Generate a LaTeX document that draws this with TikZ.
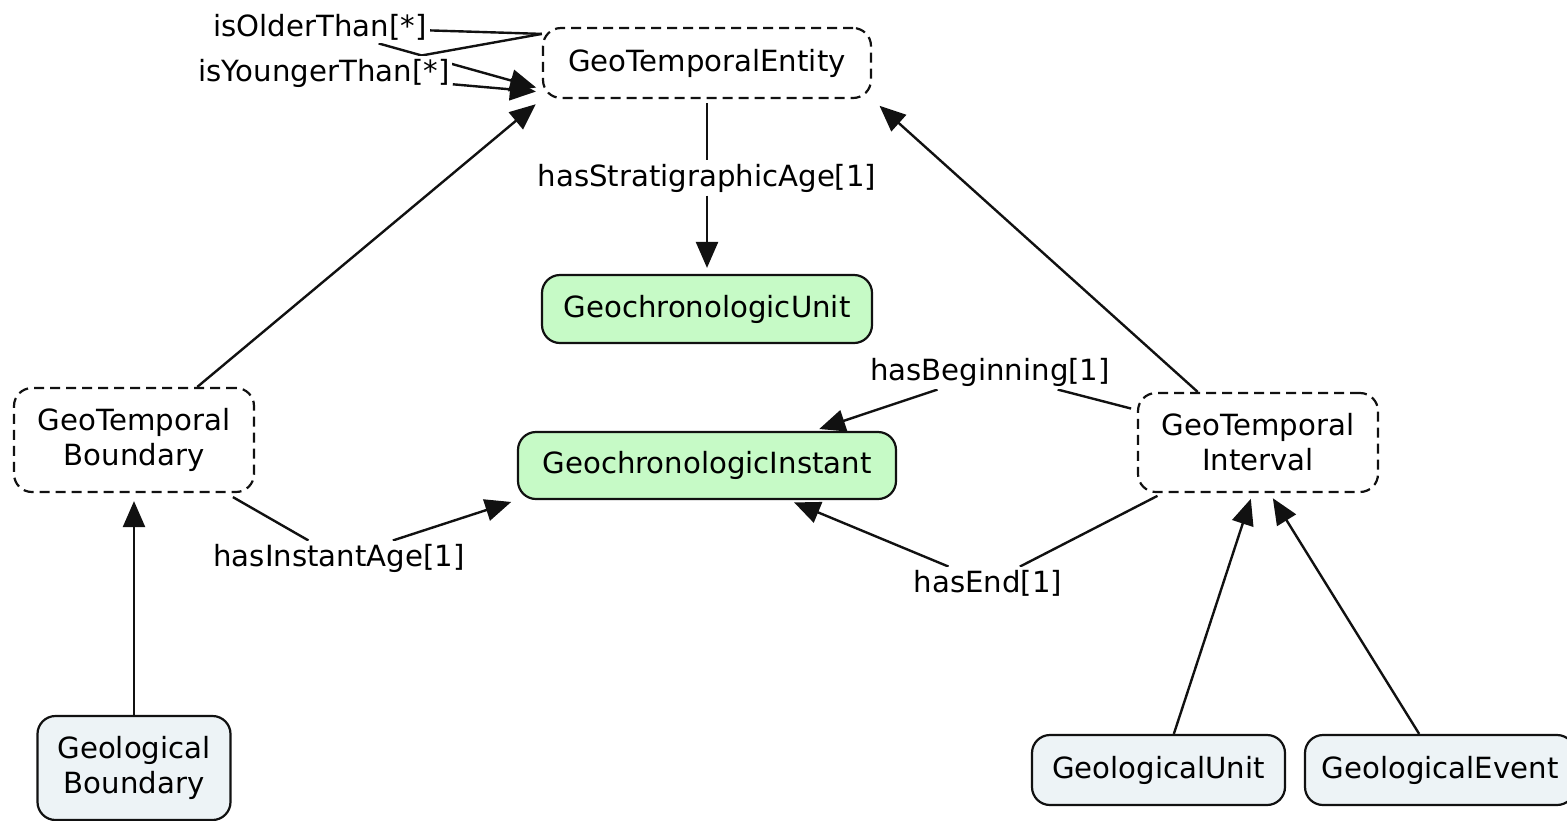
\documentclass[tikz,border=0pt]{standalone}
\usepackage{fontspec}
\setmainfont{DejaVu Sans}
\usetikzlibrary{arrows.meta, positioning, backgrounds}
\definecolor{linecol}{HTML}{111111}
\definecolor{chronofill}{HTML}{C6FAC6}
\definecolor{geofill}{HTML}{EDF3F6}

\begin{document}
\begin{tikzpicture}[x=0.5pt, y=-0.5pt, >={Triangle[length=13pt, width=11pt]}, every node/.style={font=\fontsize{14.6}{17.5}\selectfont}]
    \tikzstyle{abstract} = [rectangle, draw=linecol, dash pattern=on 5pt off 3pt, rounded corners=9pt, line width=1.1pt, align=center, inner sep=0pt]
    \tikzstyle{chrono} = [rectangle, draw=linecol, fill=chronofill, rounded corners=9pt, line width=1.1pt, align=center, inner sep=0pt]
    \tikzstyle{geo} = [chrono, fill=geofill]
    \tikzstyle{relation} = [fill=white, inner sep=1.5pt]
    \tikzstyle{link} = [draw=linecol, line width=1.2pt]

    \useasboundingbox (0,0) rectangle (1567,820);

    % concepts
    \node [abstract, minimum width=164pt, minimum height=35pt] (entity) at (707,63) {GeoTemporalEntity};
    \node [chrono, minimum width=165pt, minimum height=34pt] (unit) at (707,309) {GeochronologicUnit};
    \node [chrono, minimum width=189pt, minimum height=33.5pt] (instant) at (707,465.5) {GeochronologicInstant};
    \node [abstract, minimum width=120pt, minimum height=52pt] (gtb) at (134,440) {GeoTemporal\\Boundary};
    \node [abstract, minimum width=120pt, minimum height=49.5pt] (gti) at (1258,442.5) {GeoTemporal\\Interval};
    \node [geo, minimum width=96.5pt, minimum height=52pt] (gb) at (134,768) {Geological\\Boundary};
    \node [geo, minimum width=126.5pt, minimum height=35pt] (gu) at (1158.5,770) {GeologicalUnit};
    \node [geo, minimum width=135pt, minimum height=35pt] (ge) at (1440,770) {GeologicalEvent};

    % relations
    \node [relation] (older) at (320,27) {isOlderThan[*]};
    \node [relation] (younger) at (324,73) {isYoungerThan[*]};
    \node [relation] (strat) at (707,178) {hasStratigraphicAge[1]};
    \node [relation] (begin) at (990,372) {hasBeginning[1]};
    \node [relation] (age) at (339,558) {hasInstantAge[1]};
    \node [relation] (end) at (988,583) {hasEnd[1]};

    \begin{scope}[on background layer]
        \path [link] (entity.170) -- (older);
        \path [link, ->, shorten >=3pt] (older) -- (entity.189);
        \path [link] (entity.170) -- (younger);
        \path [link, ->, shorten >=3pt] (younger) -- (entity.190);
        \path [link, shorten <=2pt] (entity.south) -- (strat);
        \path [link, ->, shorten >=3pt] (strat) -- (unit.north);
        \path [link, ->, shorten >=4pt] (gtb.40) -- (entity.south west);
        \path [link, ->, shorten >=5pt] (gti.140) -- (entity.south east);
        \path [link, shorten <=4pt] (gtb.-30) -- (age);
        \path [link, ->, shorten >=3pt] (age) -- (instant.south west);
        \path [link, shorten <=3pt] (gti.165) -- (begin);
        \path [link, ->, shorten >=3pt] (begin) -- (instant.18);
        \path [link, shorten <=3pt] (gti.208) -- (end);
        \path [link, ->, shorten >=3pt] (end) -- (instant.337);
        \path [link, ->, shorten >=4pt] (gb) -- (gtb);
        \path [link, ->, shorten >=3pt] (gu.67) -- (gti.264);
        \path [link, ->, shorten >=3pt] (ge.120) -- (gti.283);
    \end{scope}
\end{tikzpicture}
\end{document}
